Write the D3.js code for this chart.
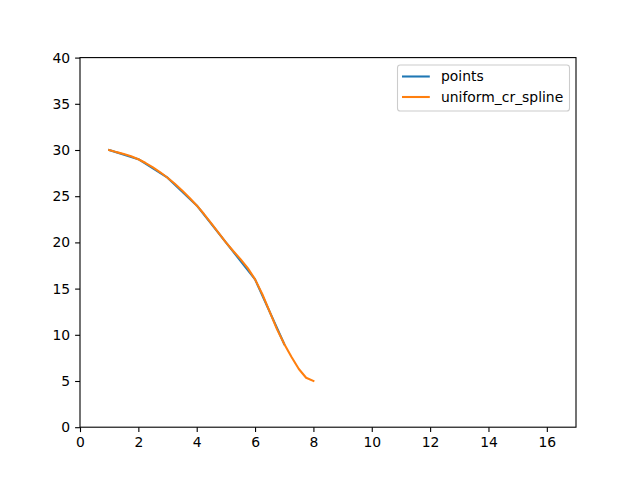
<!DOCTYPE html>
<html><head><meta charset="utf-8">
<script src="https://cdn.jsdelivr.net/npm/d3@7"></script>
<style>body{margin:0;background:#fff}svg{display:block}text{font-family:"DejaVu Sans",sans-serif}</style>
</head><body>
<script>
const pointsX = [1, 2, 3, 4, 5, 6, 7];
const pointsY = [30, 29, 27, 24, 20, 16, 9];
const splineX = [1, 1.25, 1.5, 1.75, 2, 2.25, 2.5, 2.75, 3, 3.25, 3.5, 3.75, 4, 4.25, 4.5, 4.75, 5, 5.25, 5.5, 5.75, 6, 6.25, 6.5, 6.75, 7, 7.25, 7.5, 7.75, 8];
const splineY = [30, 29.77, 29.56, 29.32, 29, 28.59, 28.12, 27.59, 27, 26.34, 25.62, 24.84, 24, 23.07, 22.06, 21.02, 20, 19.07, 18.19, 17.21, 16, 14.39, 12.5, 10.61, 9, 7.6, 6.3, 5.35, 5];
const xTicks = [0, 2, 4, 6, 8, 10, 12, 14, 16];
const yTicks = [0, 5, 10, 15, 20, 25, 30, 35, 40];
const seriesNames = ["points", "uniform_cr_spline"];
const colors = ["#1f77b4", "#ff7f0e"];

const W = 640, H = 480;
const L = 80, R = 576, T = 57.6, B = 427.2;
const svg = d3.select("body").append("svg").attr("width", W).attr("height", H);
const x = d3.scaleLinear().domain([0, 17]).range([L, R]);
const y = d3.scaleLinear().domain([0, 40]).range([B, T]);

const fs = 13.9;
const xa = svg.append("g").attr("transform", `translate(0,${B})`)
  .call(d3.axisBottom(x).tickValues(xTicks).tickSize(4.9).tickPadding(4.9).tickFormat(d3.format("d")));
const ya = svg.append("g").attr("transform", `translate(${L},0)`)
  .call(d3.axisLeft(y).tickValues(yTicks).tickSize(4.9).tickPadding(4.9).tickFormat(d3.format("d")));
[xa, ya].forEach(a => {
  a.select(".domain").remove();
  a.selectAll("line").attr("stroke", "#000").attr("stroke-width", 1.1);
  a.selectAll("text").attr("font-size", fs).attr("fill", "#000").attr("font-family", "DejaVu Sans");
});

const line = d3.line().x(d => x(d[0])).y(d => y(d[1]));
const data = [pointsX.map((v, i) => [v, pointsY[i]]), splineX.map((v, i) => [v, splineY[i]])];
data.forEach((d, i) => {
  svg.append("path").datum(d).attr("d", line).attr("fill", "none")
    .attr("stroke", colors[i]).attr("stroke-width", 2.08).attr("stroke-linecap", "square").attr("stroke-linejoin", "round");
});

svg.append("rect").attr("x", L).attr("y", T).attr("width", R - L).attr("height", B - T)
  .attr("fill", "none").attr("stroke", "#000").attr("stroke-width", 1.1);

// legend
const lg = svg.append("g");
const lx = 397.5, ly = 65, lw = 172, lh = 46;
lg.append("rect").attr("x", lx).attr("y", ly).attr("width", lw).attr("height", lh).attr("rx", 2.8)
  .attr("fill", "#fff").attr("fill-opacity", 0.8).attr("stroke", "#cccccc").attr("stroke-width", 1.1);
seriesNames.forEach((n, i) => {
  const yy = ly + 11.5 + i * 20.5;
  lg.append("line").attr("x1", lx + 4.5).attr("x2", lx + 32.3).attr("y1", yy).attr("y2", yy)
    .attr("stroke", colors[i]).attr("stroke-width", 2.08);
  lg.append("text").attr("x", lx + 43.5).attr("y", yy).attr("dy", "0.35em").attr("font-size", fs).attr("fill", "#000").text(n);
});
</script>
</body></html>
